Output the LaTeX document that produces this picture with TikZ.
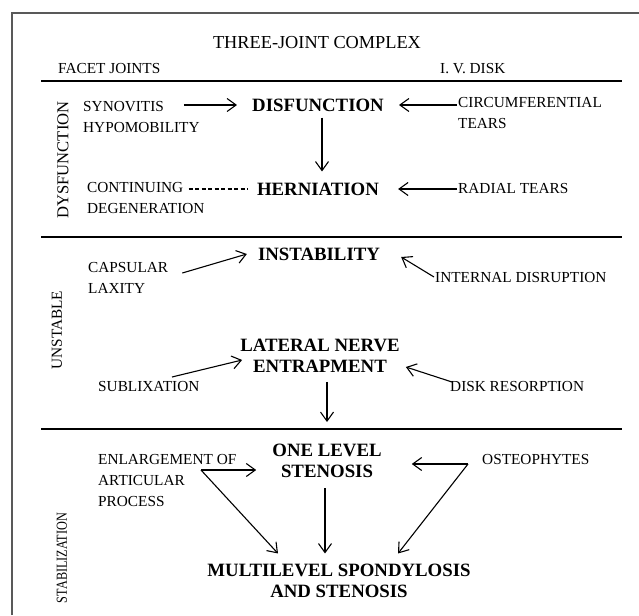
\documentclass[tikz,border=0pt]{standalone}
\usepackage{fontspec}
\setmainfont{Liberation Serif}
\usepackage{tikz}
\usetikzlibrary{arrows.meta}
\usetikzlibrary{calc}
\tikzset{>={Straight Barb[length=9pt,width=13pt]}}

\begin{document}
\begin{tikzpicture}[x=1pt, y=-1pt]
\tikzset{lbl/.style={inner sep=0pt, anchor=west, align=left, font=\fontsize{15.3}{21}\selectfont}}
\tikzset{stage/.style={inner sep=0pt, align=center, font=\fontsize{18.8}{21}\selectfont\bfseries}}
\tikzset{band/.style={inner sep=0pt, rotate=90, font=\fontsize{15.3}{21}\selectfont}}
\tikzset{arr/.style={->, line width=1.1pt}}
\tikzset{sepline/.style={line width=2pt}}
    \useasboundingbox (0,0) rectangle (639,615);
    \draw[line width=1.5pt, black!65] (12,615) -- (12,13) -- (639,13);

    \node[inner sep=0pt, font=\fontsize{18.3}{21}\selectfont] (Title) at (317,43) {THREE-JOINT COMPLEX};
    \node[lbl] (Facet) at (58,69) {FACET JOINTS};
    \node[lbl] (IVD) at (440,69) {I. V. DISK};

    \coordinate (S1l) at (41,81);   \coordinate (S1r) at (622,81);
    \coordinate (S2l) at (41,237);  \coordinate (S2r) at (622,237);
    \coordinate (S3l) at (41,429);  \coordinate (S3r) at (622,429);
    \draw[sepline] (S1l) -- (S1r);
    \draw[sepline] (S2l) -- (S2r);
    \draw[sepline] (S3l) -- (S3r);
% % % % % % % % % % % % % % % % % % %
    \node[band, font=\fontsize{16.6}{21}\selectfont] (Dys) at (63,160) {DYSFUNCTION};

    \node[lbl] (Syn) at (83,117) {SYNOVITIS\\HYPOMOBILITY};
    \node[stage] (Disf) at (318,105) {DISFUNCTION};
    \node[lbl] (Circ) at (458,113.5) {CIRCUMFERENTIAL\\TEARS};

    \node[lbl] (Cont) at (87,198.5) {CONTINUING\\DEGENERATION};
    \node[stage] (Hern) at (318,189) {HERNIATION};
    \node[lbl] (Rad) at (458,189) {RADIAL TEARS};

    \draw[arr] ($(Syn.east |- Disf.west)+(-16,0)$) -- ($(Disf.west)+(-15,0)$);
    \draw[arr] ($(Circ.west |- Disf.east)+(-1,0)$) -- ($(Disf.east)+(15,0)$);
    \draw[arr] ($(Disf.south)+(4,6)$) -- ($(Hern.north)+(4,-11)$);
    \draw[line width=1.1pt, dash pattern=on 4pt off 2.5pt] ($(Cont.east |- Hern.west)+(-16,0)$) -- ($(Hern.west)+(-9,0)$);
    \draw[arr] ($(Rad.west)+(-1,0)$) -- ($(Hern.east)+(19,0)$);
% % % % % % % % % % % % % % % % % % %
    \node[band] (Uns) at (57,330) {UNSTABLE};

    \node[stage] (Inst) at (319,254) {INSTABILITY};
    \node[lbl] (Caps) at (88,278) {CAPSULAR\\LAXITY};
    \node[lbl] (Intd) at (435,278) {INTERNAL DISRUPTION};

    \node[stage] (Lat) at (320,356) {LATERAL NERVE\\ENTRAPMENT};
    \node[lbl] (Subl) at (98,387) {SUBLIXATION};
    \node[lbl] (Dres) at (450,387) {DISK RESORPTION};
    \coordinate (Lat_out) at (327,422);

    \draw[arr] ($(Caps.east)+(14,-5)$) -- ($(Inst.west)+(-11,0)$);
    \draw[arr] ($(Intd.west)+(-1,-1)$) -- ($(Inst.east)+(21,3)$);
    \draw[arr] ($(Subl.west)+(74,-10)$) -- ($(Lat.west)+(2,4)$);
    \draw[arr] ($(Dres.west)+(2,-5)$) -- ($(Lat.east)+(6,11)$);
    \draw[arr] (Lat.south -| Lat_out) ++(0,9) -- (Lat_out);
% % % % % % % % % % % % % % % % % % %
    \node[band] (Stab) at (62,558) {\scalebox{0.8}[1]{STABILIZATION}};

    \node[stage] (One) at (327,461) {ONE LEVEL\\STENOSIS};
    \node[lbl] (Enl) at (98,481) {ENLARGEMENT OF\\ARTICULAR\\PROCESS};
    \node[lbl] (Ost) at (482,460) {OSTEOPHYTES};
    \node[stage] (Multi) at (339,580.5) {MULTILEVEL SPONDYLOSIS\\AND STENOSIS};

    \coordinate (Enl_j) at ($(Enl.west)+(103,-11)$);
    \coordinate (Ost_j) at ($(Ost.west)+(-14,4)$);

    \draw[arr] (Enl_j) -- ($(One.west)+(-16,9)$);
    \draw[arr] (Enl_j) -- ($(Multi.north)+(-61,-10)$);
    \draw[arr] (Ost_j) -- ($(One.east)+(30,3)$);
    \draw[arr] (Ost_j) -- ($(Multi.north)+(59,-10)$);
    \draw[arr] ($(One.south)+(-2,10)$) -- ($(Multi.north)+(-14,-10)$);
\end{tikzpicture}
\end{document}
